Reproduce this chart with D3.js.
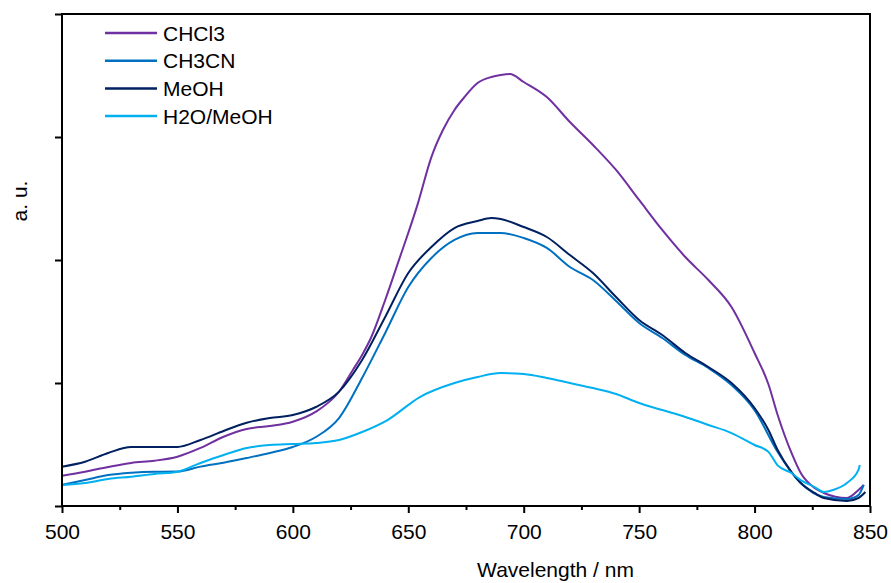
<!DOCTYPE html>
<html lang="en">
<head>
	<meta charset="UTF-8">
	<title>Emission spectra</title>
	<style type="text/css">
	body { margin: 0; background: #fff; }
	text { font-family: Arial, "Liberation Sans", sans-serif; fill: #000; }
	.axis .domain { stroke: none; }
	.axis .tick line { stroke: #000; stroke-width: 2; }
	</style>
</head>
<body>
</body>
<script src="https://cdn.jsdelivr.net/npm/d3@7"></script>
<script>
var seriesNames = ['CHCl3', 'CH3CN', 'MeOH', 'H2O/MeOH']
var seriesColors = ['#7030A0', '#0070C0', '#002060', '#00B0F0']

// wavelength (nm) / intensity (a.u.) pairs
var chcl3Nm = [500, 510, 520, 530, 540, 550, 560, 570, 580, 590, 600, 610, 620, 626, 630, 634, 640, 647, 650, 654, 660, 665, 670, 674, 680, 686, 690, 694, 700, 710, 720, 730, 740, 750, 760, 770, 780, 790, 800, 806, 810, 816, 820, 826, 830, 840, 845, 847.3]
var chcl3Val = [0.246, 0.279, 0.317, 0.350, 0.368, 0.401, 0.472, 0.563, 0.626, 0.650, 0.685, 0.767, 0.929, 1.106, 1.228, 1.374, 1.675, 2.057, 2.220, 2.450, 2.837, 3.057, 3.220, 3.317, 3.439, 3.488, 3.504, 3.512, 3.447, 3.325, 3.122, 2.935, 2.732, 2.488, 2.244, 2.024, 1.837, 1.618, 1.244, 0.990, 0.740, 0.431, 0.268, 0.146, 0.106, 0.065, 0.130, 0.171]

var ch3cnNm = [500, 510, 520, 530, 540, 550, 560, 570, 580, 590, 600, 610, 620, 630, 640, 650, 660, 670, 680, 690, 700, 710, 720, 730, 740, 750, 760, 770, 780, 790, 800, 810, 820, 830, 840, 845, 847.3]
var ch3cnVal = [0.171, 0.211, 0.252, 0.271, 0.279, 0.280, 0.320, 0.352, 0.390, 0.431, 0.480, 0.561, 0.715, 1.041, 1.407, 1.780, 2.016, 2.163, 2.220, 2.220, 2.179, 2.098, 1.943, 1.837, 1.667, 1.488, 1.366, 1.228, 1.122, 0.984, 0.780, 0.439, 0.187, 0.073, 0.057, 0.089, 0.171]

var meohNm = [500, 510, 520, 530, 540, 550, 560, 570, 580, 590, 600, 610, 620, 630, 640, 650, 660, 670, 680, 686, 690, 700, 710, 720, 730, 740, 750, 760, 770, 780, 790, 800, 806, 810, 816, 820, 826, 830, 840, 845, 848]
var meohVal = [0.320, 0.360, 0.431, 0.480, 0.480, 0.480, 0.537, 0.610, 0.677, 0.715, 0.740, 0.805, 0.930, 1.187, 1.537, 1.894, 2.106, 2.260, 2.317, 2.341, 2.333, 2.268, 2.187, 2.040, 1.894, 1.699, 1.512, 1.390, 1.244, 1.130, 1.000, 0.797, 0.618, 0.455, 0.276, 0.187, 0.106, 0.065, 0.041, 0.065, 0.114]

var waterNm = [500, 510, 520, 530, 540, 550, 560, 570, 580, 590, 600, 610, 620, 630, 641, 655, 670, 680, 690, 700, 710, 720, 730, 740, 750, 760, 770, 780, 790, 800, 806, 810, 816, 820, 826, 830, 834, 840, 845, 845.6]
var waterVal = [0.171, 0.187, 0.220, 0.238, 0.260, 0.279, 0.350, 0.415, 0.472, 0.496, 0.504, 0.512, 0.537, 0.602, 0.699, 0.886, 1.000, 1.049, 1.081, 1.073, 1.041, 1.000, 0.959, 0.911, 0.837, 0.780, 0.724, 0.659, 0.593, 0.496, 0.440, 0.330, 0.268, 0.211, 0.154, 0.114, 0.130, 0.187, 0.293, 0.333]

var xTicks = [500, 550, 600, 650, 700, 750, 800, 850]
var xMinorTicks = [525, 575, 625, 675, 725, 775, 825]
var yTicks = [0, 1, 2, 3, 4]

var allNm = [chcl3Nm, ch3cnNm, meohNm, waterNm]
var allVal = [chcl3Val, ch3cnVal, meohVal, waterVal]

var margin = {top: 14, right: 21, bottom: 77, left: 62},
    width = 891 - margin.left - margin.right,
    height = 583 - margin.top - margin.bottom;

var x = d3.scaleLinear().domain([500, 850]).range([0, width])
var y = d3.scaleLinear().domain([0, 4]).range([height, 0])

var svg = d3.select("body").append("svg")
    .attr("width", 891)
    .attr("height", 583)
  .append("g")
    .attr("transform", "translate(" + margin.left + "," + margin.top + ")");

// spectra
var line = d3.line()
    .x(function (d) { return x(d[0]) })
    .y(function (d) { return y(d[1]) })
    .curve(d3.curveMonotoneX)

seriesNames.forEach(function (name, i) {
	var pts = allNm[i].map(function (nm, j) { return [nm, allVal[i][j]] })
	svg.append("path")
	    .datum(pts)
	    .attr("fill", "none")
	    .attr("stroke", seriesColors[i])
	    .attr("stroke-width", 2)
	    .attr("stroke-linejoin", "round")
	    .attr("d", line)
})

// frame
svg.append("rect")
    .attr("width", width)
    .attr("height", height)
    .attr("fill", "none")
    .attr("stroke", "#000")
    .attr("stroke-width", 2)

var xAxis = svg.append("g")
    .attr("class", "axis axis--x")
    .attr("transform", "translate(0," + height + ")")
    .call(d3.axisBottom(x).tickValues(xTicks).tickSize(7).tickPadding(0).tickFormat(d3.format("d")))
xAxis.selectAll("text")
    .attr("y", 33)
    .attr("dy", 0)
    .style("font-size", "21px")
    .style("font-family", "Arial, 'Liberation Sans', sans-serif")

svg.append("g")
    .attr("class", "axis")
    .attr("transform", "translate(0," + height + ")")
    .call(d3.axisBottom(x).tickValues(xMinorTicks).tickSize(4).tickFormat(""))

svg.append("g")
    .attr("class", "axis axis--y")
    .call(d3.axisLeft(y).tickValues(yTicks).tickSize(7).tickFormat(""))

// axis titles
svg.append("text")
    .attr("x", 555.5 - margin.left)
    .attr("y", 577 - margin.top)
    .attr("text-anchor", "middle")
    .style("font-size", "21px")
    .text("Wavelength / nm")

svg.append("text")
    .attr("transform", "translate(" + (27 - margin.left) + "," + (201 - margin.top) + ") rotate(-90)")
    .attr("text-anchor", "middle")
    .style("font-size", "21px")
    .text("a. u.")

// legend
var legend = svg.append("g")
    .attr("transform", "translate(" + (105 - margin.left) + "," + (33 - margin.top) + ")")

seriesNames.forEach(function (name, i) {
	var g = legend.append("g").attr("transform", "translate(0," + (i * 27.7) + ")")
	g.append("line")
	    .attr("x1", 0).attr("x2", 52)
	    .attr("stroke", seriesColors[i])
	    .attr("stroke-width", 2.5)
	g.append("text")
	    .attr("x", 58)
	    .attr("y", 7.7)
	    .style("font-size", "21px")
	    .text(name)
})
</script>
</html>
